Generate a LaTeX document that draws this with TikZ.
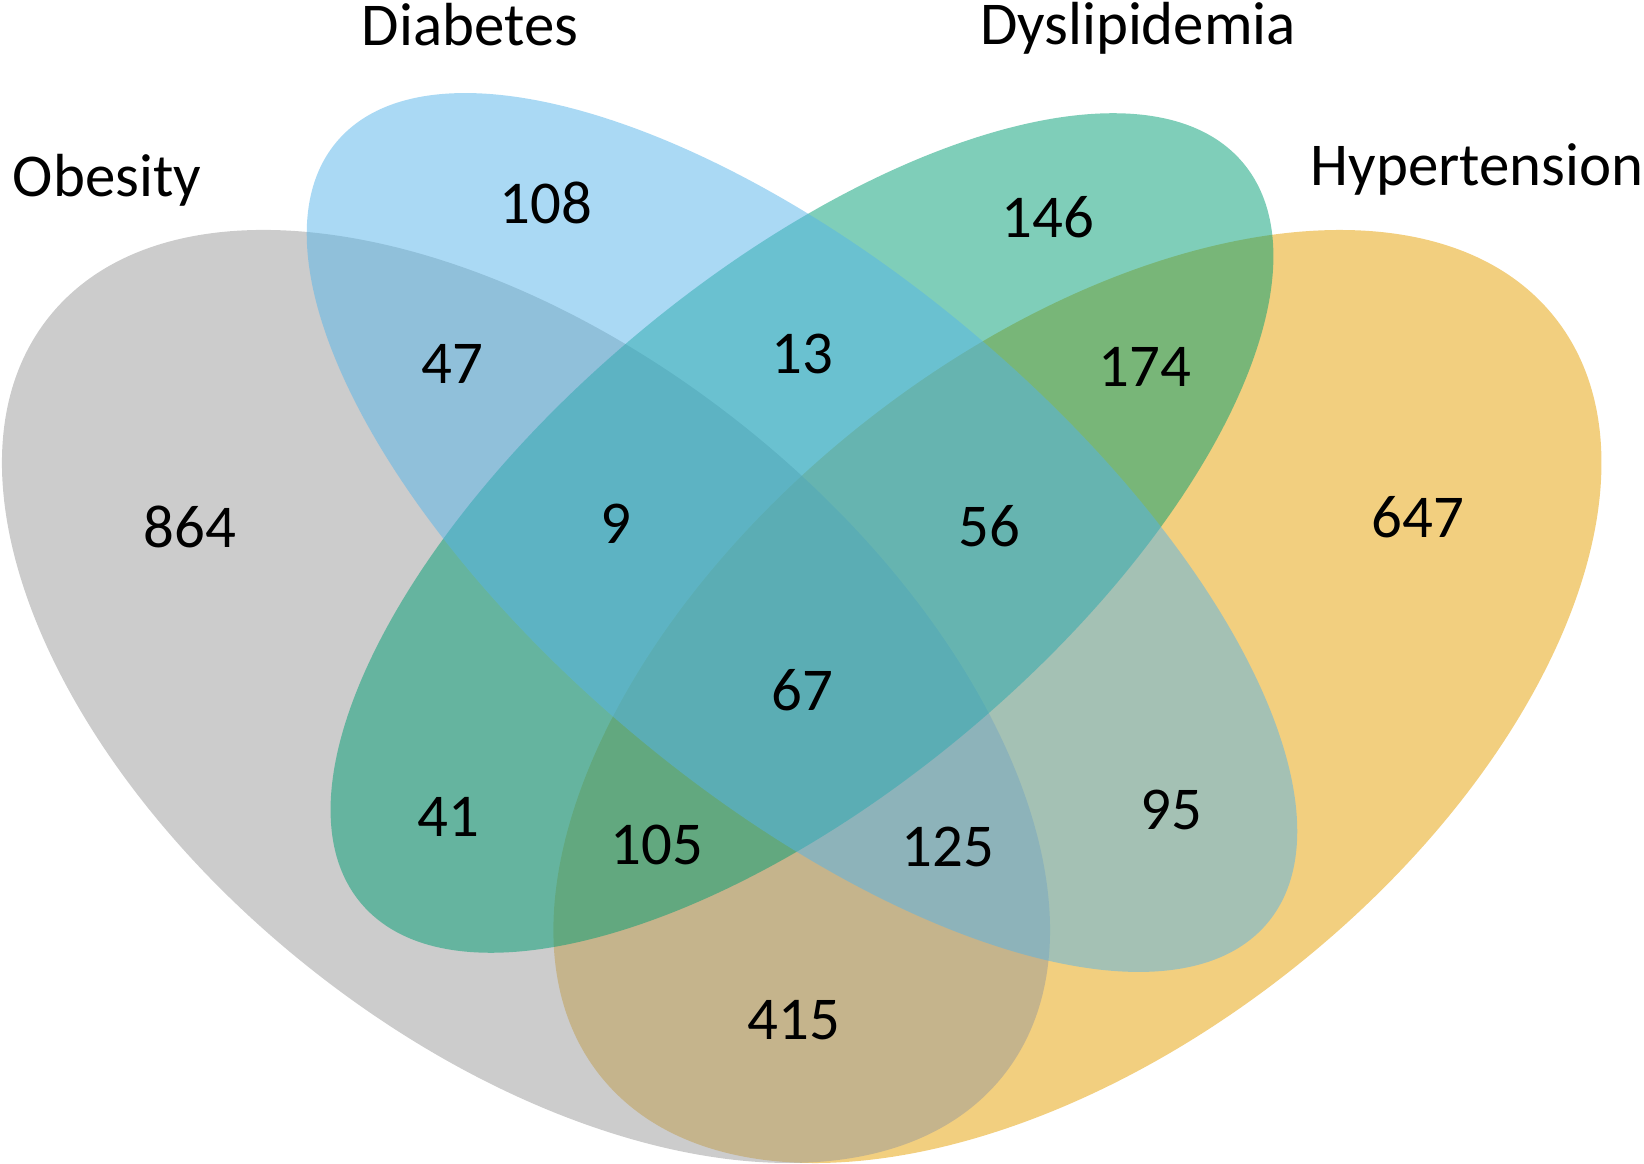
\documentclass[tikz,border=0pt]{standalone}
\usepackage{fontspec}
\setmainfont{Carlito}
\usepackage{tikz}

\definecolor{obesecol}{HTML}{999999}
\definecolor{diabcol}{HTML}{56B4E9}
\definecolor{dyslcol}{HTML}{009E73}
\definecolor{hypercol}{HTML}{E69F00}

\tikzset{
    set/.style={fill opacity=0.5},
    count/.style={inner sep=0pt, font=\fontsize{17.3}{20}\selectfont},
    setname/.style={inner sep=0pt, anchor=base, font=\fontsize{17.3}{20}\selectfont}
}

\begin{document}
\begin{tikzpicture}[x=0.01cm, y=-0.01cm]
    \useasboundingbox (0,0) rectangle (1644,1164);

    \coordinate (H) at (1077.5,696.5);
    \coordinate (O) at (526,696.5);
    \coordinate (Dy) at (802,533);
    \coordinate (D) at (802,532.5);

    \fill[set, fill=hypercol, rotate around={38.45:(H)}]  (H)  ellipse [x radius=609.6, y radius=347.2];
    \fill[set, fill=obesecol, rotate around={-38.45:(O)}] (O)  ellipse [x radius=609.6, y radius=347.2];
    \fill[set, fill=dyslcol,  rotate around={40:(Dy)}]    (Dy) ellipse [x radius=575.8, y radius=258.3];
    \fill[set, fill=diabcol,  rotate around={-40:(D)}]    (D)  ellipse [x radius=607.6, y radius=262.7];

    \node[setname]               (obesity)  at (107,197)  {Obesity};
    \node[setname]               (diabetes) at (470,46)   {Diabetes};
    \node[setname]               (dyslip)   at (1138,45)  {Dyslipidemia};
    \node[setname, anchor=base west] (hyper) at (1310,186) {Hypertension};

    \node[count] (n108) at (546,203)  {108};
    \node[count] (n146) at (1048,217) {146};
    \node[count] (n47)  at (452,364)  {47};
    \node[count] (n13)  at (802,354)  {13};
    \node[count] (n174) at (1145,367) {174};
    \node[count] (n864) at (190,527)  {864};
    \node[count] (n9)   at (616,524)  {9};
    \node[count] (n56)  at (989,526)  {56};
    \node[count] (n647) at (1418,517) {647};
    \node[count] (n67)  at (802,690)  {67};
    \node[count] (n41)  at (448,817)  {41};
    \node[count] (n95)  at (1171,810) {95};
    \node[count] (n105) at (657,845)  {105};
    \node[count] (n125) at (948,847)  {125};
    \node[count] (n415) at (794,1020) {415};
\end{tikzpicture}
\end{document}
